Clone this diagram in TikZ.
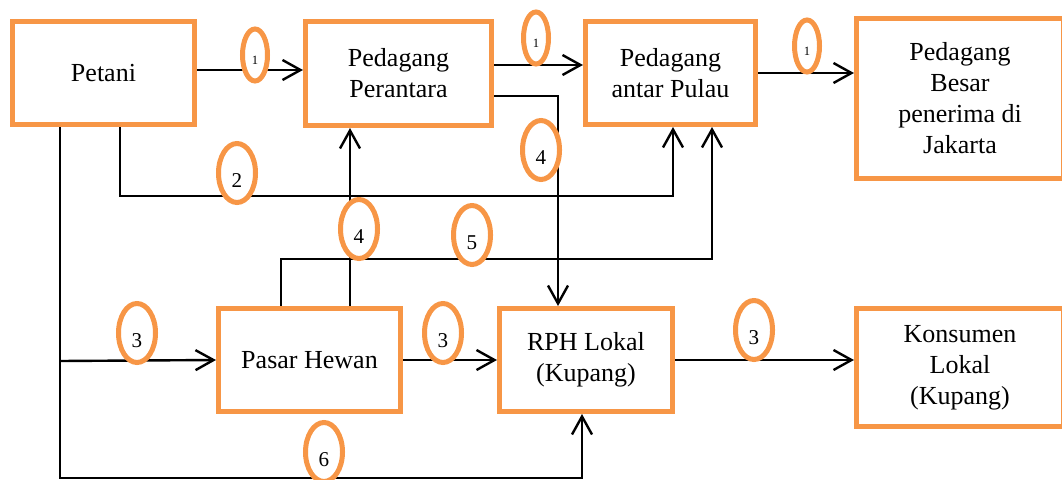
\documentclass[tikz,border=0pt]{standalone}
\usepackage{fontspec}
\setmainfont{Liberation Serif}
\usetikzlibrary{arrows.meta,shapes.geometric}
\definecolor{boxorange}{RGB}{247,150,70}

\begin{document}
\begin{tikzpicture}[x=0.025cm,y=-0.025cm,
  box/.style={draw=boxorange,line width=0.125cm,fill=white,align=center,inner sep=0pt,
    font=\fontsize{18.5}{22}\selectfont},
  tag/.style={ellipse,draw=boxorange,line width=0.125cm,fill=white,inner sep=0pt,
    minimum width=0.925cm,minimum height=1.475cm,text height=0.74cm,text depth=0pt,
    font=\fontsize{15}{16}\selectfont},
  tagone/.style={tag,minimum width=0.625cm,minimum height=1.3cm,text height=0.45cm,
    font=\fontsize{9}{10}\selectfont},
  flow/.style={line width=0.06cm,-{Straight Barb[length=0.45cm,width=0.5cm]}},
  link/.style={line width=0.06cm}]
  \useasboundingbox (0,0) rectangle (1062,479);
  % boxes
  \node[box,minimum width=4.55cm,minimum height=2.575cm] (petani) at (103.5,73) {Petani};
  \node[box,minimum width=4.65cm,minimum height=2.6cm] (perantara) at (398.5,73.5) {Pedagang\\Perantara};
  \node[box,minimum width=4.25cm,minimum height=2.575cm] (pulau) at (670.5,73) {Pedagang\\antar Pulau};
  \node[box,minimum width=5.175cm,minimum height=4cm] (besar) at (960,98.5) {Pedagang\\Besar\\penerima di\\Jakarta};
  \node[box,minimum width=4.55cm,minimum height=2.575cm] (pasar) at (309.5,360) {Pasar Hewan};
  \node[box,minimum width=4.325cm,minimum height=2.575cm] (rph) at (586,360) {RPH Lokal\\(Kupang)};
  \node[box,minimum width=5.175cm,minimum height=2.95cm] (konsumen) at (960,367.5) {Konsumen\\Lokal\\(Kupang)};
  % bends
  \coordinate (b0) at (250,70);
  \coordinate (b1) at (540,65);
  \coordinate (b4) at (558,96);
  \coordinate (b2) at (120,196);
  \coordinate (e2) at (673,196);
  \coordinate (b5) at (281,259);
  \coordinate (e5) at (712,259);
  \coordinate (c4) at (350,259);
  \coordinate (b3) at (60,361);
  \coordinate (b6) at (60,478);
  \coordinate (e6) at (582,478);
  % connectors
  \draw[flow] (petani.east |- b0) -- (perantara.west |- b0);
  \draw[flow] (perantara.east |- b1) -- (pulau.west |- b1);
  \draw[flow] (perantara.east |- b4) -| (rph.north -| b4);
  \draw[flow] (pulau.east) -- (besar.west |- pulau.east);
  \draw[flow] (petani.south -| b2) -- (b2) -- (e2) -- (pulau.south -| e2);
  \draw[flow] (pasar.north -| c4) -- (perantara.south -| c4);
  \draw[flow] (pasar.north -| b5) -- (b5) -- (e5) -- (pulau.south -| e5);
  \draw[flow] (petani.south -| b6) -- (b6) -- (e6) -- (rph.south -| e6);
  \draw[flow] (b3) -- (pasar.west);
  \draw[flow] (pasar.east) -- (rph.west);
  \draw[flow] (rph.east) -- (konsumen.west |- rph.east);
  % numbers
  \node[tagone] (n1a) at (255,55) {1};
  \node[tagone] (n1b) at (536,38) {1};
  \node[tagone] (n1c) at (807,46) {1};
  \node[tag] (n2) at (237,173) {2};
  \node[tag] (n4a) at (541,150) {4};
  \node[tag] (n4b) at (359,229) {4};
  \node[tag] (n5) at (472,235) {5};
  \node[tag] (n3a) at (137,333) {3};
  \node[tag] (n3b) at (443,333) {3};
  \node[tag] (n3c) at (754,330) {3};
  \node[tag] (n6) at (324,452) {6};
\end{tikzpicture}
\end{document}
